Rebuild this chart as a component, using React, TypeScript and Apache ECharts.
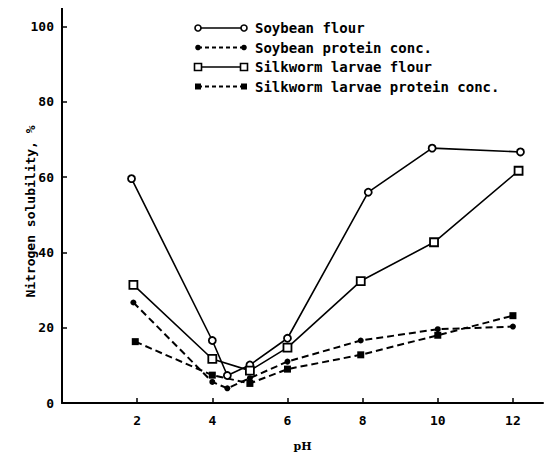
import React, { useEffect, useRef } from "react";
import * as echarts from "echarts";

const soyFlourPH = [1.85, 4.0, 4.4, 5.0, 6.0, 8.15, 9.85, 12.2];
const soyFlour = [59.6, 16.6, 7.3, 10.1, 17.2, 56.0, 67.7, 66.7];
const soyProtPH = [1.9, 4.0, 4.4, 5.0, 6.0, 7.95, 10.0, 12.0];
const soyProt = [26.7, 5.6, 3.9, 6.6, 11.0, 16.6, 19.6, 20.3];
const silkFlourPH = [1.9, 4.0, 5.0, 6.0, 7.95, 9.9, 12.15];
const silkFlour = [31.4, 11.7, 8.6, 14.7, 32.4, 42.7, 61.7];
const silkProtPH = [1.95, 4.0, 5.0, 6.0, 7.95, 10.0, 12.0];
const silkProt = [16.3, 7.4, 5.2, 9.0, 12.8, 18.0, 23.2];

const xTicks = [2, 4, 6, 8, 10, 12];
const yTicks = [20, 40, 60, 80, 100];
const yLabels = [0, 20, 40, 60, 80, 100];
const legendNames = [
  "Soybean flour",
  "Soybean protein conc.",
  "Silkworm larvae flour",
  "Silkworm larvae protein conc.",
];

const MONO = "'DejaVu Sans Mono', 'Liberation Mono', monospace";

function zip(xs: number[], ys: number[]) {
  return xs.map((x, i) => [x, ys[i]]);
}

export default function App() {
  const ref = useRef<HTMLDivElement>(null);
  useEffect(() => {
    if (!ref.current) return;
    const chart = echarts.init(ref.current, null, { renderer: "svg" });

    const legendGraphics: any[] = [];
    const rowsY = [28, 47.5, 67, 86.5];
    const kinds = ["hcircle", "fcircle", "hsquare", "fsquare"];
    rowsY.forEach((y, i) => {
      const dashed = i % 2 === 1;
      legendGraphics.push({
        type: "line",
        shape: { x1: 198, y1: y, x2: 244, y2: y },
        style: { stroke: "#000", lineWidth: dashed ? 2 : 1.6, lineDash: dashed ? [4, 3] : null },
      });
      [198, 244].forEach((cx) => {
        const k = kinds[i];
        if (k === "hcircle") {
          legendGraphics.push({ type: "circle", shape: { cx, cy: y, r: 3 }, style: { fill: "#fff", stroke: "#000", lineWidth: 1.6 } });
        } else if (k === "fcircle") {
          legendGraphics.push({ type: "circle", shape: { cx, cy: y, r: 2.8 }, style: { fill: "#000" } });
        } else if (k === "hsquare") {
          legendGraphics.push({ type: "rect", shape: { x: cx - 3.5, y: y - 3.5, width: 7, height: 7 }, style: { fill: "#fff", stroke: "#000", lineWidth: 1.6 } });
        } else {
          legendGraphics.push({ type: "rect", shape: { x: cx - 3, y: y - 3, width: 6, height: 6 }, style: { fill: "#000" } });
        }
      });
      legendGraphics.push({
        type: "text",
        x: 255,
        y,
        style: {
          text: legendNames[i],
          fill: "#000",
          font: `bold 14px ${MONO}`,
          verticalAlign: "middle",
        },
      });
    });

    const lineBase = { type: "line", animation: false, z: 3 };
    chart.setOption({
      animation: false,
      backgroundColor: "#fff",
      grid: { left: 62, top: 4, width: 481, height: 399, containLabel: false },
      xAxis: {
        type: "value",
        min: 0,
        max: 12.8,
        name: "pH",
        nameLocation: "middle",
        nameGap: 38,
        nameMoveOverlap: false,
        nameTextStyle: { fontFamily: "'DejaVu Serif', serif", fontWeight: "bold", fontSize: 11, color: "#000" },
        axisLine: { show: true, lineStyle: { color: "#000", width: 2 } },
        axisTick: { show: true, inside: true, length: 5, customValues: xTicks, lineStyle: { color: "#000", width: 1.5 } },
        axisLabel: { customValues: xTicks, margin: 11, color: "#000", fontFamily: MONO, fontWeight: "bold", fontSize: 13 },
        splitLine: { show: false },
      },
      yAxis: {
        type: "value",
        min: 0,
        max: 106,
        name: "Nitrogen solubility, %",
        nameLocation: "middle",
        nameGap: 25,
        nameRotate: 90,
        nameMoveOverlap: false,
        nameTextStyle: { fontFamily: MONO, fontWeight: "bold", fontSize: 13, color: "#000", padding: [0, 16, 0, 0] },
        axisLine: { show: true, lineStyle: { color: "#000", width: 2 } },
        axisTick: { show: true, inside: true, length: 5, customValues: yTicks, lineStyle: { color: "#000", width: 1.5 } },
        axisLabel: { customValues: yLabels, margin: 8, color: "#000", fontFamily: MONO, fontWeight: "bold", fontSize: 13 },
        splitLine: { show: false },
      },
      graphic: legendGraphics,
      series: [
        {
          ...lineBase,
          name: legendNames[0],
          data: zip(soyFlourPH, soyFlour),
          symbol: "circle",
          symbolSize: 7,
          showAllSymbol: true,
          lineStyle: { color: "#000", width: 1.6 },
          itemStyle: { color: "#fff", borderColor: "#000", borderWidth: 1.8 },
        },
        {
          ...lineBase,
          name: legendNames[1],
          data: zip(soyProtPH, soyProt),
          symbol: "circle",
          symbolSize: 6,
          showAllSymbol: true,
          lineStyle: { color: "#000", width: 2, type: [7, 4] },
          itemStyle: { color: "#000", borderWidth: 0 },
        },
        {
          ...lineBase,
          name: legendNames[2],
          data: zip(silkFlourPH, silkFlour),
          symbol: "rect",
          symbolSize: 8,
          showAllSymbol: true,
          lineStyle: { color: "#000", width: 1.6 },
          itemStyle: { color: "#fff", borderColor: "#000", borderWidth: 1.8 },
        },
        {
          ...lineBase,
          name: legendNames[3],
          data: zip(silkProtPH, silkProt),
          symbol: "rect",
          symbolSize: 7,
          showAllSymbol: true,
          lineStyle: { color: "#000", width: 2, type: [7, 4] },
          itemStyle: { color: "#000", borderWidth: 0 },
        },
      ],
    });
    return () => chart.dispose();
  }, []);
  return <div ref={ref} style={{ width: 553, height: 463, margin: -8 }} />;
}
